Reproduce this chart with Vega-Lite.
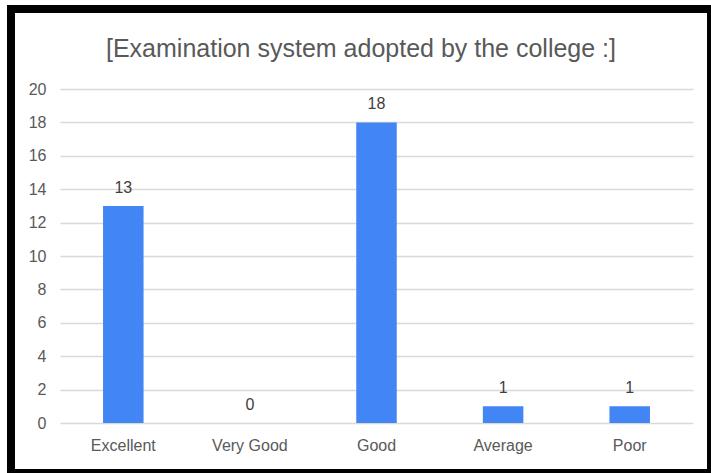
{
  "$schema": "https://vega.github.io/schema/vega-lite/v6.json",
  "width": 700,
  "height": 464,
  "autosize": {"type": "none"},
  "padding": {"left": 11, "top": 9, "right": 0, "bottom": 0},
  "background": "white",
  "title": {
    "text": "[Examination system adopted by the college :]",
    "anchor": "middle",
    "frame": "group",
    "fontSize": 25,
    "font": "Liberation Sans",
    "fontWeight": "normal",
    "color": "#595959",
    "baseline": "middle",
    "offset": -65
  },
  "data": {
    "values": [
      {"rating": "Excellent", "count": 13},
      {"rating": "Very Good", "count": 0},
      {"rating": "Good", "count": 18},
      {"rating": "Average", "count": 1},
      {"rating": "Poor", "count": 1}
    ]
  },
  "encoding": {
    "x": {
      "field": "rating",
      "type": "nominal",
      "sort": null,
      "scale": {"range": [49, 682], "paddingInner": 0.68, "paddingOuter": 0.34},
      "axis": {
        "title": null,
        "domain": false,
        "ticks": false,
        "tickSize": 0,
        "labelPadding": 0,
        "offset": -28,
        "labelBaseline": "middle",
        "labelAngle": 0,
        "labelFontSize": 16,
        "labelFont": "Liberation Sans",
        "labelColor": "#595959",
        "grid": false
      }
    },
    "y": {
      "field": "count",
      "type": "quantitative",
      "scale": {"domain": [0, 20], "range": [414, 80], "nice": false},
      "axis": {
        "title": null,
        "values": [0, 2, 4, 6, 8, 10, 12, 14, 16, 18, 20],
        "domain": false,
        "ticks": false,
        "tickSize": 0,
        "labelPadding": 0,
        "offset": -35,
        "labelFontSize": 16,
        "labelFont": "Liberation Sans",
        "labelColor": "#595959",
        "grid": true,
        "gridColor": "#d9d9d9",
        "gridWidth": 1.5
      }
    }
  },
  "layer": [
    {"mark": {"type": "bar", "color": "#4285F4"}},
    {
      "mark": {"type": "text", "dy": -13, "baseline": "alphabetic", "fontSize": 16, "font": "Liberation Sans", "color": "#404040"},
      "encoding": {"text": {"field": "count", "type": "quantitative"}}
    }
  ],
  "config": {
    "view": {"stroke": "black", "strokeWidth": 8, "fill": "white"}
  }
}
